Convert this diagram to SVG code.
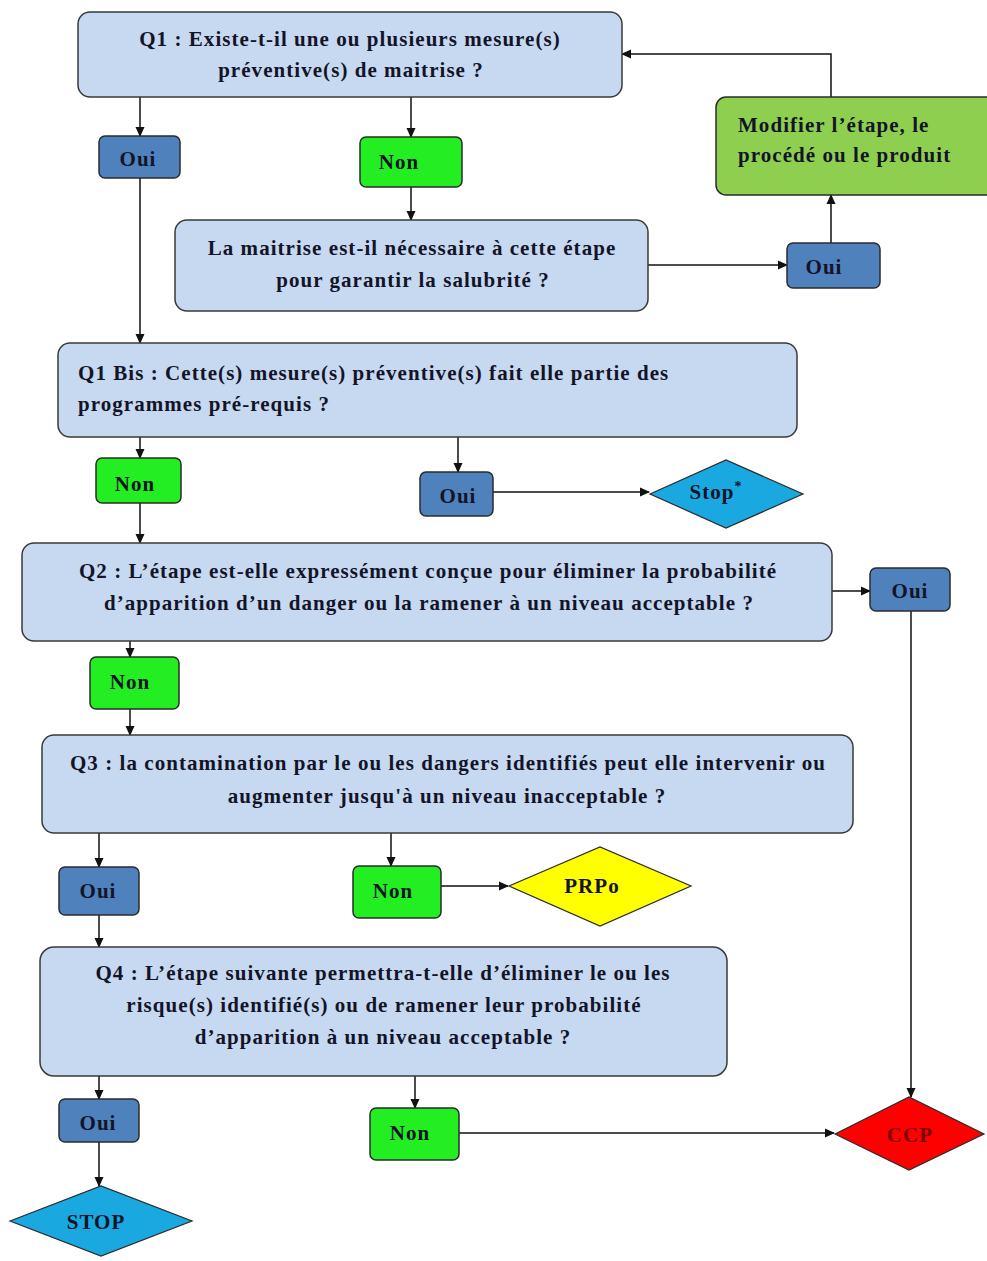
<svg xmlns="http://www.w3.org/2000/svg" width="987" height="1261" viewBox="0 0 987 1261">
<style>
text{font-family:"Liberation Serif","Times New Roman",serif;font-weight:bold;font-size:21px;letter-spacing:1.05px;fill:#141428}
.c{text-anchor:middle}
.q{fill:#c6d9f1;stroke:#3a3a3a;stroke-width:1.5}
.oui{fill:#4f81bd;stroke:#2b2b2b;stroke-width:1.5}
.non{fill:#22ee22;stroke:#2b2b2b;stroke-width:1.5}
.mod{fill:#8fcf4f;stroke:#2b2b2b;stroke-width:1.5}
.ln{fill:none;stroke:#111;stroke-width:1.5;marker-end:url(#ah)}
</style>
<defs>
<marker id="ah" markerWidth="10" markerHeight="10" refX="9" refY="5" orient="auto" markerUnits="userSpaceOnUse">
<path d="M0,0.5 L10,5 L0,9.5 Z" fill="#111"/>
</marker>
</defs>
<rect width="987" height="1261" fill="#fff"/>
<g id="connectors">
<path class="ln" d="M140,97 V136"/>
<path class="ln" d="M411,97 V137"/>
<path class="ln" d="M411,187 V220"/>
<path class="ln" d="M648,265 H787"/>
<path class="ln" d="M831,243 V195"/>
<path class="ln" d="M831,97 V54 H622"/>
<path class="ln" d="M140,178 V343"/>
<path class="ln" d="M140,437 V458"/>
<path class="ln" d="M458,437 V472"/>
<path class="ln" d="M493,492 H649"/>
<path class="ln" d="M140,503 V543"/>
<path class="ln" d="M832,591 H870"/>
<path class="ln" d="M911,611 V1097"/>
<path class="ln" d="M130,641 V657"/>
<path class="ln" d="M130,709 V735"/>
<path class="ln" d="M99,833 V867"/>
<path class="ln" d="M391,833 V866"/>
<path class="ln" d="M441,886 H508"/>
<path class="ln" d="M99,915 V947"/>
<path class="ln" d="M99,1076 V1099"/>
<path class="ln" d="M99,1142 V1186"/>
<path class="ln" d="M415,1076 V1108"/>
<path class="ln" d="M459,1133 H834"/>
</g>
<g id="q1">
<rect class="q" x="78" y="12" width="544" height="85" rx="12"/>
<text class="c" x="350" y="46">Q1 : Existe-t-il une ou plusieurs mesure(s)</text>
<text class="c" x="351" y="77">préventive(s) de maitrise ?</text>
</g>
<g id="oui1">
<rect class="oui" x="99" y="136" width="81" height="42" rx="6"/>
<text class="c" x="138" y="166">Oui</text>
</g>
<g id="non1">
<rect class="non" x="360" y="137" width="102" height="50" rx="6"/>
<text class="c" x="399" y="169">Non</text>
</g>
<g id="maitrise">
<rect class="q" x="175" y="220" width="473" height="91" rx="12"/>
<text class="c" x="412" y="255">La maitrise est-il nécessaire à cette étape</text>
<text class="c" x="413" y="287">pour garantir la salubrité ?</text>
</g>
<g id="oui2">
<rect class="oui" x="787" y="243" width="93" height="45" rx="6"/>
<text class="c" x="824" y="274">Oui</text>
</g>
<g id="modifier">
<rect class="mod" x="716" y="97" width="280" height="98" rx="10"/>
<text x="738" y="132">Modifier l’étape, le</text>
<text x="738" y="162">procédé ou le produit</text>
</g>
<g id="q1bis">
<rect class="q" x="58" y="343" width="739" height="94" rx="12"/>
<text x="78" y="380">Q1 Bis : Cette(s) mesure(s) préventive(s) fait elle partie des</text>
<text x="78" y="411">programmes pré-requis ?</text>
</g>
<g id="non2">
<rect class="non" x="96" y="458" width="85" height="45" rx="6"/>
<text class="c" x="135" y="491">Non</text>
</g>
<g id="oui3">
<rect class="oui" x="420" y="472" width="73" height="44" rx="6"/>
<text class="c" x="458" y="503">Oui</text>
</g>
<g id="stop1">
<polygon points="650,494 726,460 803,494 726,528" fill="#19a8e0" stroke="#2b2b2b" stroke-width="1.2"/>
<text class="c" x="716" y="499">Stop<tspan dy="-8" font-size="14">*</tspan></text>
</g>
<g id="q2">
<rect class="q" x="22" y="543" width="810" height="98" rx="12"/>
<text class="c" x="428" y="578">Q2 : L’étape est-elle expressément conçue pour éliminer la probabilité</text>
<text class="c" x="429" y="610">d’apparition d’un danger ou la ramener à un niveau acceptable ?</text>
</g>
<g id="oui4">
<rect class="oui" x="870" y="568" width="80" height="43" rx="6"/>
<text class="c" x="910" y="598">Oui</text>
</g>
<g id="non3">
<rect class="non" x="90" y="657" width="89" height="52" rx="6"/>
<text class="c" x="130" y="689">Non</text>
</g>
<g id="q3">
<rect class="q" x="42" y="735" width="811" height="98" rx="12"/>
<text class="c" x="448" y="770">Q3 : la contamination par le ou les dangers identifiés peut elle intervenir ou</text>
<text class="c" x="447" y="803">augmenter jusqu'à un niveau inacceptable ?</text>
</g>
<g id="oui5">
<rect class="oui" x="59" y="867" width="80" height="48" rx="6"/>
<text class="c" x="98" y="898">Oui</text>
</g>
<g id="non4">
<rect class="non" x="353" y="866" width="88" height="52" rx="6"/>
<text class="c" x="393" y="898">Non</text>
</g>
<g id="prpo">
<polygon points="509,886 600,847 691,886 600,926" fill="#ffff00" stroke="#2b2b2b" stroke-width="1.2"/>
<text class="c" x="592" y="893">PRPo</text>
</g>
<g id="q4">
<rect class="q" x="40" y="947" width="687" height="129" rx="14"/>
<text class="c" x="383" y="980">Q4 : L’étape suivante permettra-t-elle d’éliminer le ou les</text>
<text class="c" x="384" y="1012">risque(s) identifié(s) ou de ramener leur probabilité</text>
<text class="c" x="383" y="1044">d’apparition à un niveau acceptable ?</text>
</g>
<g id="oui6">
<rect class="oui" x="59" y="1099" width="80" height="43" rx="6"/>
<text class="c" x="98" y="1130">Oui</text>
</g>
<g id="stop2">
<polygon points="10,1221 101,1186 192,1221 101,1256" fill="#19a8e0" stroke="#2b2b2b" stroke-width="1.2"/>
<text class="c" x="96" y="1229">STOP</text>
</g>
<g id="non5">
<rect class="non" x="370" y="1108" width="89" height="52" rx="6"/>
<text class="c" x="410" y="1140">Non</text>
</g>
<g id="ccp">
<polygon points="835,1134 909,1097 984,1134 909,1170" fill="#ff0000" stroke="#2b2b2b" stroke-width="1.2"/>
<text class="c" x="910" y="1142" style="fill:#7a0000">CCP</text>
</g>
</svg>
